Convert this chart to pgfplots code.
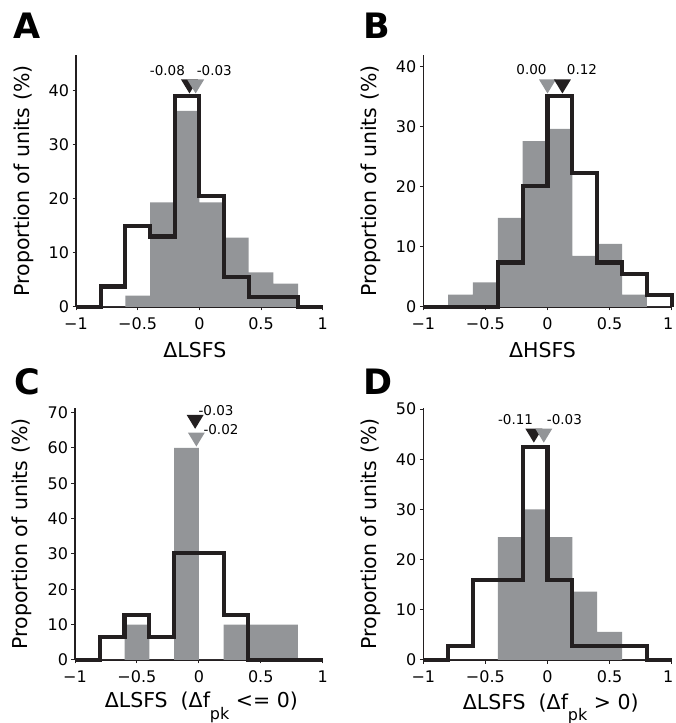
\documentclass[border=0pt]{standalone}
\usepackage{fontspec}
\setmainfont{DejaVu Sans}
\usepackage{pgfplots}
\pgfplotsset{compat=1.18}

\definecolor{barfill}{HTML}{939598}
\definecolor{ink}{HTML}{231F20}

% downward triangle, apex on the data point
\pgfdeclareplotmark{dtri}{%
  \pgfpathmoveto{\pgfqpoint{0pt}{0pt}}%
  \pgfpathlineto{\pgfqpoint{-8.5pt}{14pt}}%
  \pgfpathlineto{\pgfqpoint{8.5pt}{14pt}}%
  \pgfpathclose\pgfusepathqfill}

\tikzset{val/.style={font=\fontsize{13.5}{16}\selectfont, inner sep=0pt}}

\newcommand{\pk}{\raisebox{-0.55em}{\fontsize{16}{16}\selectfont pk}}

\pgfplotsset{
  histo/.style={
    scale only axis, anchor=south west, height=252pt,
    xmin=-1, xmax=1, ymin=0,
    axis lines=left, axis line style={-, line width=1.1pt, ink},
    xtick={-1,-0.5,0,0.5,1}, xticklabels={−1,−0.5,0,0.5,1},
    tick align=outside, major tick length=3.5pt,
    tick style={line width=1pt, ink},
    ticklabel style={font=\fontsize{16}{18}\selectfont},
    xticklabel style={yshift=-4pt},
    /pgf/number format/assume math mode=true,
    label style={font=\fontsize{20.5}{24}\selectfont},
    ylabel={Proportion of units (\%)},
    ylabel style={at={(axis description cs:-0.19,0.5)}, anchor=base},
    clip=false,
  },
  % right-hand panels: keep the last tick label inside the page
  rightpanel/.style={xticklabels={−1,−0.5,0,0.5,\kern-7pt 1}},
  bars/.style={ybar interval, fill=barfill, draw=none},
  steps/.style={const plot, line width=4.2pt, ink, line join=miter, no marks},
  blk/.style={only marks, mark=dtri, ink},
  gry/.style={only marks, mark=dtri, barfill},
}

\newcommand{\letter}[3]{\node[anchor=base west, inner sep=0pt,
  font=\bfseries\fontsize{35}{35}\selectfont] at (#1pt,#2pt) {#3};}

\begin{document}
\begin{tikzpicture}
\path[use as bounding box] (0pt,0pt) rectangle (675pt,723pt);

%% A
\begin{axis}[histo, at={(76pt,416pt)}, width=246.7pt, ymax=46.5,
    ytick={0,10,...,40}, xlabel={ΔLSFS},
    xlabel style={at={(axis description cs:0.482,0)}, anchor=base, yshift=-51pt}]
\addplot[bars] coordinates {(-1,0)(-0.8,0)(-0.6,2.1)(-0.4,19.3)(-0.2,36.2)
  (0,19.3)(0.2,12.8)(0.4,6.4)(0.6,4.3)(0.8,0)(1,0)};
\addplot[steps] coordinates {(-1,0)(-0.8,3.8)(-0.6,15.0)(-0.4,13.0)(-0.2,39.0)
  (0,20.5)(0.2,5.6)(0.4,1.9)(0.6,1.9)(0.8,0)(1,0)};
\addplot[blk] coordinates {(-0.08,39.4)};
\addplot[gry] coordinates {(-0.03,39.4)};
\node[val, anchor=base east] at (axis cs:-0.116,42.8) {-0.08};
\node[val, anchor=base west] at (axis cs:-0.022,42.8) {-0.03};
\end{axis}

%% B
\begin{axis}[histo, rightpanel, at={(423.3pt,416pt)}, width=248.4pt, ymax=41.9,
    ytick={0,10,...,40}, xlabel={ΔHSFS},
    xlabel style={at={(axis description cs:0.48,0)}, anchor=base, yshift=-51pt}]
\addplot[bars] coordinates {(-1,0)(-0.8,2.05)(-0.6,4.1)(-0.4,14.8)(-0.2,27.6)
  (0,29.6)(0.2,8.5)(0.4,10.5)(0.6,2.05)(0.8,0)(1,0)};
\addplot[steps] coordinates {(-1,0)(-0.8,0)(-0.6,0)(-0.4,7.4)(-0.2,20.1)
  (0,35.1)(0.2,22.3)(0.4,7.4)(0.6,5.5)(0.8,2.0)(1,0)};
\addplot[gry] coordinates {(0.00,35.5)};
\addplot[blk] coordinates {(0.12,35.5)};
\node[val, anchor=base east] at (axis cs:-0.006,38.6) {0.00};
\node[val, anchor=base west] at (axis cs:0.155,38.6) {0.12};
\end{axis}

%% C
\begin{axis}[histo, at={(75pt,63pt)}, width=247.7pt, ymax=71.3,
    ytick={0,10,...,70},
    xlabel={ΔLSFS~~(Δf\pk{} <= 0)},
    xlabel style={at={(axis description cs:0.51,0)}, anchor=base, yshift=-48pt}]
\addplot[bars] coordinates {(-1,0)(-0.8,0)(-0.6,10)(-0.4,0)(-0.2,60)
  (0,0)(0.2,10)(0.4,10)(0.6,10)(0.8,0)(1,0)};
\addplot[steps] coordinates {(-1,0)(-0.8,6.5)(-0.6,12.7)(-0.4,6.5)(-0.2,30.2)
  (0,30.2)(0.2,12.7)(0.4,0)(0.6,0)(0.8,0)(1,0)};
\addplot[blk] coordinates {(-0.03,65.4)};
\addplot[gry] coordinates {(-0.02,60.4)};
\node[val, anchor=base west] at (axis cs:-0.004,69.3) {-0.03};
\node[val, anchor=base west] at (axis cs:0.036,63.7) {-0.02};
\end{axis}

%% D
\begin{axis}[histo, rightpanel, at={(423.3pt,63pt)}, width=248.4pt, ymax=50.2,
    ytick={0,10,...,50},
    xlabel={ΔLSFS~~(Δf\pk{} > 0)},
    xlabel style={at={(axis description cs:0.513,0)}, anchor=base, yshift=-49pt}]
\addplot[bars] coordinates {(-1,0)(-0.8,0)(-0.6,0)(-0.4,24.5)(-0.2,30)
  (0,24.5)(0.2,13.6)(0.4,5.6)(0.6,0)(0.8,0)(1,0)};
\addplot[steps] coordinates {(-1,0)(-0.8,2.8)(-0.6,16)(-0.4,16)(-0.2,42.4)
  (0,16)(0.2,2.8)(0.4,2.8)(0.6,2.8)(0.8,0)(1,0)};
\addplot[blk] coordinates {(-0.11,43.3)};
\addplot[gry] coordinates {(-0.03,43.3)};
\node[val, anchor=base east] at (axis cs:-0.115,46.9) {-0.11};
\node[val, anchor=base west] at (axis cs:-0.006,46.9) {-0.03};
\end{axis}

\letter{13}{684.7}{A}
\letter{363}{684.7}{B}
\letter{14}{328}{C}
\letter{363}{328}{D}
\end{tikzpicture}
\end{document}
